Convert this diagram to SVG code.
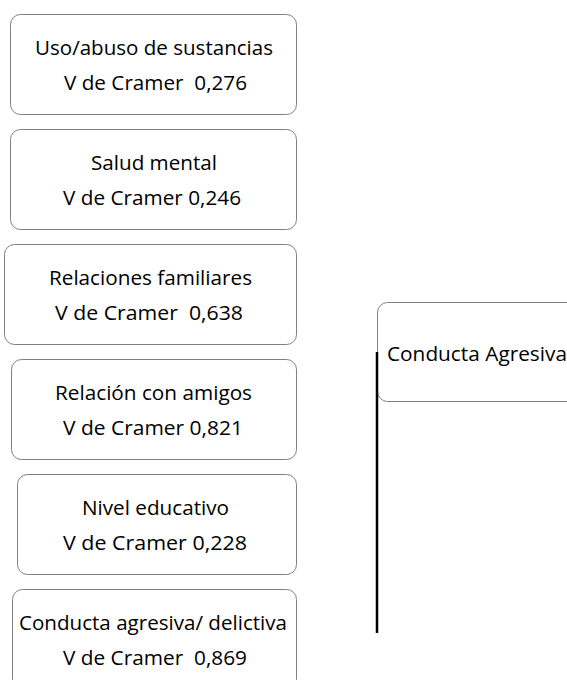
<svg xmlns="http://www.w3.org/2000/svg" width="567" height="680" viewBox="0 0 567 680">
<style>
.box{fill:#fff;stroke:#7f7f7f;stroke-width:1}
.t{font-family:"Open Sans","Liberation Sans",Arial,sans-serif;font-size:20.5px;fill:#000}
</style>
<rect width="567" height="680" fill="#fff"/>
<g id="n1">
<rect class="box" x="10.5" y="14.5" width="286" height="100" rx="10"/>
<text class="t" x="35" y="55" textLength="238" lengthAdjust="spacingAndGlyphs">Uso/abuso de sustancias</text>
<text class="t" x="64" y="90" textLength="183" lengthAdjust="spacingAndGlyphs" xml:space="preserve">V de Cramer  0,276</text>
</g>
<g id="n2">
<rect class="box" x="10.5" y="129.5" width="286" height="100" rx="10"/>
<text class="t" x="91" y="170" textLength="126" lengthAdjust="spacingAndGlyphs">Salud mental</text>
<text class="t" x="63" y="205" textLength="178" lengthAdjust="spacingAndGlyphs">V de Cramer 0,246</text>
</g>
<g id="n3">
<rect class="box" x="4.5" y="244.5" width="292" height="100" rx="10"/>
<text class="t" x="49" y="285" textLength="203" lengthAdjust="spacingAndGlyphs">Relaciones familiares</text>
<text class="t" x="55" y="320" textLength="188" lengthAdjust="spacingAndGlyphs" xml:space="preserve">V de Cramer  0,638</text>
</g>
<g id="n4">
<rect class="box" x="11.5" y="359.5" width="285" height="100" rx="10"/>
<text class="t" x="55" y="400" textLength="197" lengthAdjust="spacingAndGlyphs">Relación con amigos</text>
<text class="t" x="63" y="435" textLength="180" lengthAdjust="spacingAndGlyphs">V de Cramer 0,821</text>
</g>
<g id="n5">
<rect class="box" x="17.5" y="474.5" width="279" height="100" rx="10"/>
<text class="t" x="82" y="515" textLength="147" lengthAdjust="spacingAndGlyphs">Nivel educativo</text>
<text class="t" x="63" y="550" textLength="184" lengthAdjust="spacingAndGlyphs">V de Cramer 0,228</text>
</g>
<g id="n6">
<rect class="box" x="12.5" y="589.5" width="284" height="100" rx="10"/>
<text class="t" x="19" y="630" textLength="268" lengthAdjust="spacingAndGlyphs">Conducta agresiva/ delictiva</text>
<text class="t" x="63" y="665" textLength="184" lengthAdjust="spacingAndGlyphs" xml:space="preserve">V de Cramer  0,869</text>
</g>
<g id="n7">
<rect class="box" x="377.5" y="302.5" width="210" height="99" rx="10"/>
<text class="t" x="387" y="361" textLength="180" lengthAdjust="spacingAndGlyphs">Conducta Agresiva</text>
</g>
<g id="connectors">
<line x1="377" y1="352" x2="377" y2="633" stroke="#000" stroke-width="2.5"/>
</g>
</svg>
